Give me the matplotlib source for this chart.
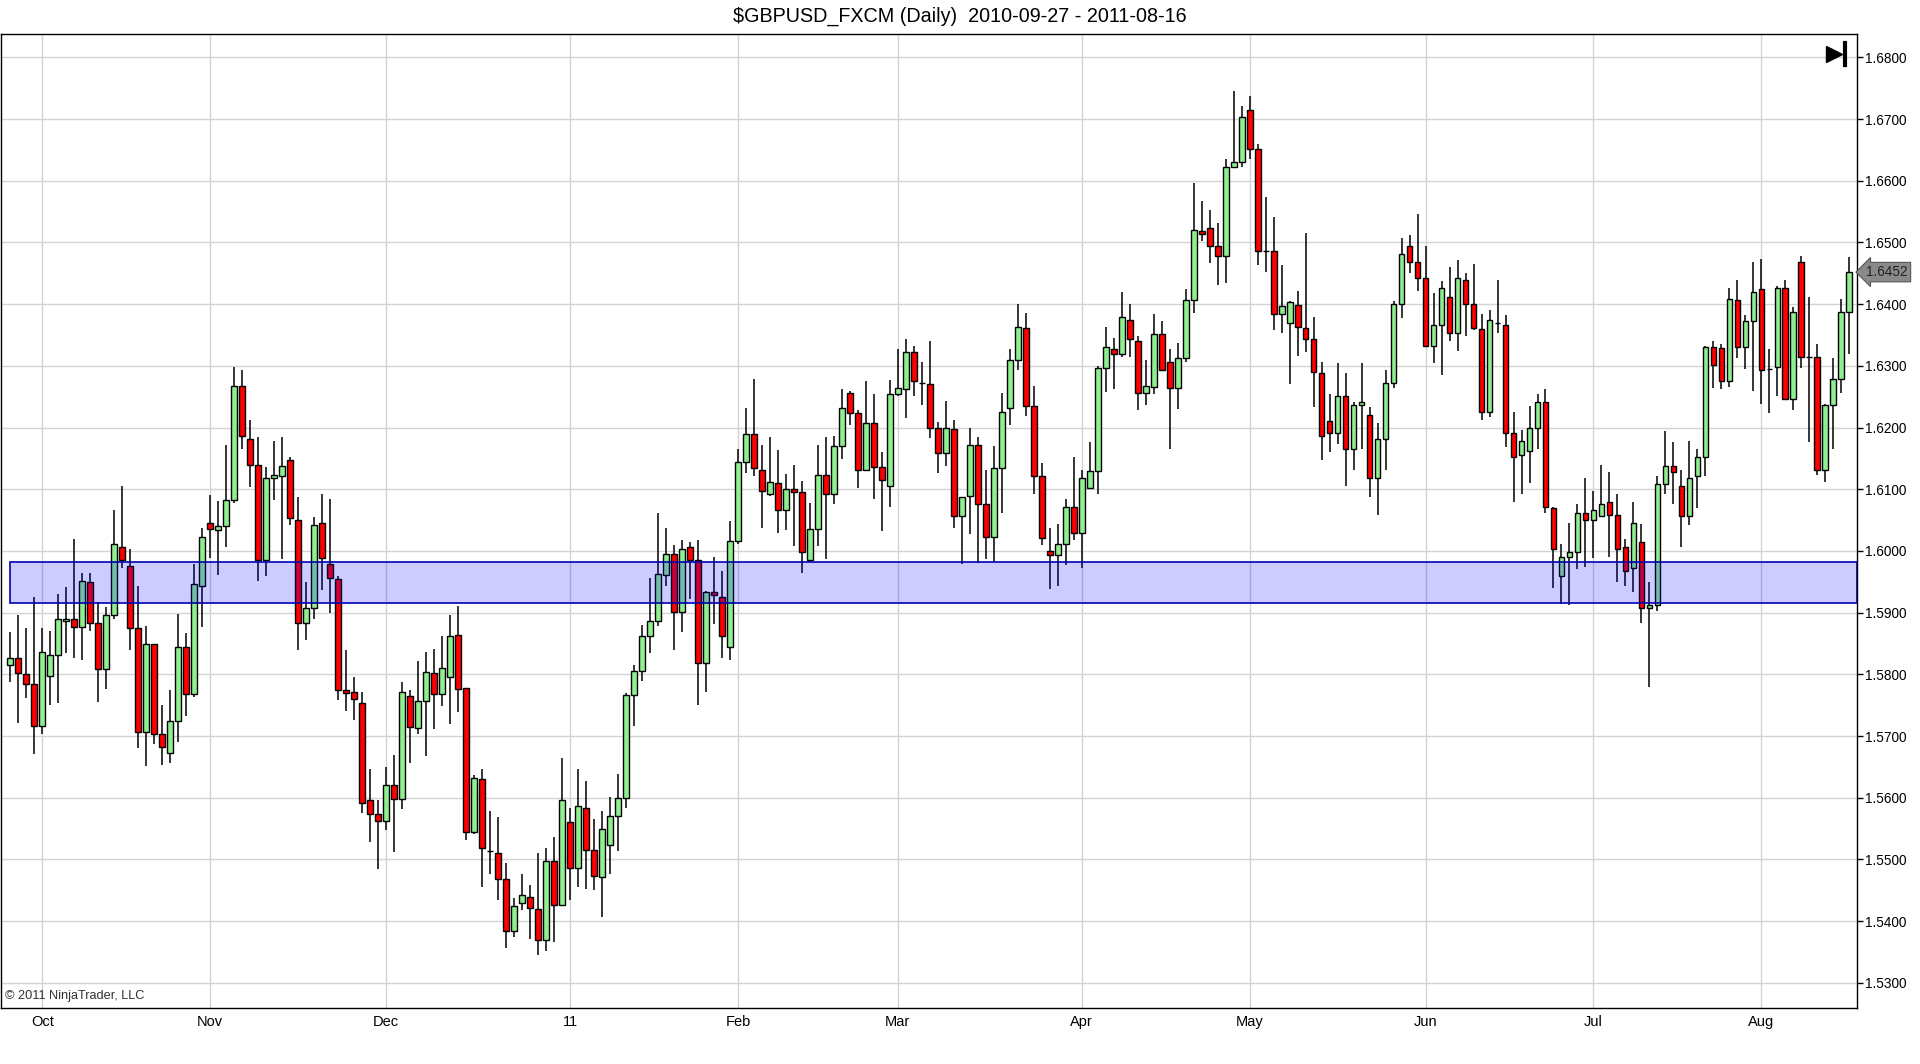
import matplotlib
matplotlib.use("Agg")
import matplotlib.pyplot as plt
from matplotlib.patches import Rectangle
import numpy as np

plt.rcParams['font.family'] = ['Liberation Sans', 'DejaVu Sans']

title = "$GBPUSD_FXCM (Daily)  2010-09-27 - 2011-08-16"

opens = [1.5816,1.5827,1.5800,1.5784,1.5716,1.5798,1.5831,1.5886,1.5889,1.5876,
         1.5949,1.5883,1.5808,1.5897,1.6007,1.5975,1.5875,1.5706,1.5849,1.5703,
         1.5672,1.5724,1.5844,1.5769,1.5943,1.6045,1.6034,1.6040,1.6082,1.6267,
         1.6181,1.6139,1.5985,1.6119,1.6121,1.6147,1.6051,1.5884,1.5907,1.6045,
         1.5979,1.5955,1.5775,1.5772,1.5754,1.5597,1.5574,1.5563,1.5621,1.5598,
         1.5765,1.5713,1.5757,1.5803,1.5769,1.5796,1.5864,1.5778,1.5545,1.5631,
         1.5513,1.5511,1.5469,1.5384,1.5429,1.5439,1.5419,1.5369,1.5497,1.5426,
         1.5560,1.5487,1.5584,1.5516,1.5471,1.5523,1.5571,1.5599,1.5767,1.5805,
         1.5863,1.5886,1.5961,1.5995,1.5901,1.6006,1.5986,1.5818,1.5933,1.5925,
         1.5845,1.6016,1.6145,1.6189,1.6132,1.6093,1.6110,1.6066,1.6100,1.6095,
         1.5985,1.6035,1.6123,1.6092,1.6170,1.6256,1.6223,1.6132,1.6207,1.6136,
         1.6106,1.6254,1.6262,1.6322,1.6272,1.6270,1.6199,1.6158,1.6197,1.6056,
         1.6089,1.6171,1.6076,1.6022,1.6134,1.6231,1.6309,1.6361,1.6235,1.6121,
         1.6000,1.5993,1.6011,1.6071,1.6029,1.6102,1.6129,1.6296,1.6328,1.6319,
         1.6374,1.6341,1.6256,1.6266,1.6351,1.6306,1.6264,1.6312,1.6406,1.6518,
         1.6523,1.6494,1.6478,1.6623,1.6630,1.6714,1.6651,1.6486,1.6486,1.6384,
         1.6369,1.6398,1.6362,1.6343,1.6288,1.6210,1.6191,1.6251,1.6166,1.6236,
         1.6221,1.6119,1.6181,1.6273,1.6400,1.6494,1.6469,1.6443,1.6333,1.6367,
         1.6411,1.6353,1.6439,1.6400,1.6359,1.6225,1.6369,1.6367,1.6192,1.6155,
         1.6162,1.6199,1.6241,1.6069,1.5959,1.5990,1.5998,1.6061,1.6051,1.6056,
         1.6080,1.6059,1.6006,1.5972,1.6014,1.5907,1.5912,1.6108,1.6137,1.6106,
         1.6056,1.6121,1.6153,1.6330,1.6329,1.6275,1.6406,1.6330,1.6372,1.6424,
         1.6295,1.6299,1.6426,1.6247,1.6468,1.6314,1.6314,1.6132,1.6236,1.6278,
         1.6388]
highs = [1.5868,1.5896,1.5875,1.5925,1.5875,1.5871,1.5931,1.5941,1.6019,1.5965,
         1.5964,1.5918,1.5909,1.6067,1.6106,1.6004,1.5943,1.5879,1.5850,1.5751,
         1.5775,1.5898,1.5867,1.5979,1.6037,1.6091,1.6081,1.6172,1.6299,1.6294,
         1.6213,1.6184,1.6136,1.6179,1.6184,1.6153,1.6087,1.5949,1.6055,1.6093,
         1.6085,1.5960,1.5839,1.5795,1.5772,1.5647,1.5597,1.5650,1.5669,1.5788,
         1.5775,1.5822,1.5837,1.5841,1.5863,1.5897,1.5911,1.5778,1.5637,1.5647,
         1.5578,1.5569,1.5494,1.5437,1.5476,1.5458,1.5511,1.5518,1.5536,1.5665,
         1.5584,1.5646,1.5628,1.5565,1.5579,1.5602,1.5639,1.5770,1.5815,1.5880,
         1.5956,1.6061,1.6038,1.6009,1.6017,1.6014,1.6017,1.5935,1.5991,1.5967,
         1.6048,1.6165,1.6231,1.6278,1.6171,1.6184,1.6163,1.6124,1.6139,1.6113,
         1.6077,1.6171,1.6184,1.6186,1.6262,1.6259,1.6228,1.6275,1.6254,1.6160,
         1.6277,1.6328,1.6343,1.6333,1.6306,1.6341,1.6209,1.6243,1.6213,1.6087,
         1.6199,1.6184,1.6132,1.6170,1.6256,1.6327,1.6400,1.6385,1.6267,1.6142,
         1.6038,1.6043,1.6084,1.6152,1.6132,1.6176,1.6300,1.6363,1.6345,1.6420,
         1.6400,1.6348,1.6309,1.6384,1.6372,1.6328,1.6337,1.6424,1.6597,1.6567,
         1.6552,1.6531,1.6635,1.6745,1.6721,1.6737,1.6659,1.6573,1.6542,1.6463,
         1.6405,1.6421,1.6516,1.6379,1.6307,1.6254,1.6304,1.6288,1.6242,1.6304,
         1.6233,1.6208,1.6293,1.6405,1.6508,1.6512,1.6546,1.6495,1.6418,1.6437,
         1.6460,1.6471,1.6450,1.6465,1.6384,1.6390,1.6440,1.6382,1.6225,1.6196,
         1.6235,1.6254,1.6262,1.6071,1.6012,1.6045,1.6076,1.6119,1.6097,1.6140,
         1.6128,1.6092,1.6019,1.6079,1.6043,1.5949,1.6121,1.6194,1.6176,1.6132,
         1.6178,1.6166,1.6333,1.6340,1.6335,1.6427,1.6439,1.6382,1.6469,1.6474,
         1.6328,1.6430,1.6440,1.6396,1.6478,1.6411,1.6335,1.6238,1.6312,1.6409,
         1.6476]
lows = [1.5788,1.5721,1.5762,1.5671,1.5704,1.5750,1.5753,1.5834,1.5827,1.5824,
        1.5870,1.5756,1.5776,1.5889,1.5972,1.5839,1.5680,1.5651,1.5687,1.5653,
        1.5657,1.5691,1.5732,1.5763,1.5877,1.5988,1.5961,1.6007,1.6077,1.6166,
        1.6103,1.5952,1.5960,1.6082,1.5987,1.6042,1.5839,1.5855,1.5889,1.5936,
        1.5899,1.5759,1.5740,1.5726,1.5576,1.5529,1.5485,1.5548,1.5512,1.5582,
        1.5657,1.5704,1.5668,1.5712,1.5749,1.5720,1.5739,1.5532,1.5542,1.5456,
        1.5477,1.5435,1.5356,1.5374,1.5418,1.5371,1.5345,1.5351,1.5367,1.5424,
        1.5434,1.5455,1.5452,1.5450,1.5406,1.5476,1.5513,1.5583,1.5717,1.5790,
        1.5835,1.5879,1.5944,1.5839,1.5868,1.5922,1.5751,1.5771,1.5881,1.5826,
        1.5823,1.6011,1.6127,1.6121,1.6037,1.6089,1.6029,1.6034,1.6008,1.5964,
        1.5982,1.6008,1.5987,1.6076,1.6149,1.6204,1.6102,1.6131,1.6085,1.6032,
        1.6072,1.6251,1.6215,1.6252,1.6236,1.6183,1.6126,1.6137,1.6038,1.5979,
        1.6027,1.5980,1.5987,1.5982,1.6061,1.6204,1.6293,1.6218,1.6092,1.6009,
        1.5938,1.5943,1.5978,1.6017,1.5972,1.6100,1.6092,1.6257,1.6262,1.6314,
        1.6314,1.6228,1.6236,1.6254,1.6291,1.6165,1.6230,1.6307,1.6385,1.6502,
        1.6466,1.6431,1.6434,1.6620,1.6622,1.6635,1.6463,1.6452,1.6358,1.6353,
        1.6270,1.6316,1.6322,1.6234,1.6147,1.6160,1.6174,1.6105,1.6131,1.6166,
        1.6087,1.6058,1.6132,1.6264,1.6377,1.6450,1.6422,1.6330,1.6304,1.6286,
        1.6340,1.6324,1.6348,1.6358,1.6213,1.6217,1.6354,1.6168,1.6079,1.6093,
        1.6110,1.6166,1.6061,1.5940,1.5914,1.5912,1.5970,1.5974,1.5988,1.6055,
        1.5991,1.5949,1.5944,1.5933,1.5883,1.5780,1.5902,1.6092,1.6076,1.6006,
        1.6042,1.6069,1.6121,1.6264,1.6262,1.6265,1.6312,1.6295,1.6260,1.6238,
        1.6223,1.6251,1.6246,1.6228,1.6296,1.6176,1.6123,1.6111,1.6166,1.6256,
        1.6319]
closes = [1.5827,1.5803,1.5785,1.5716,1.5836,1.5831,1.5889,1.5889,1.5876,1.5952,
          1.5883,1.5808,1.5897,1.6011,1.5985,1.5875,1.5706,1.5849,1.5703,1.5682,
          1.5724,1.5844,1.5768,1.5946,1.6022,1.6035,1.6040,1.6082,1.6267,1.6186,
          1.6139,1.5985,1.6119,1.6123,1.6137,1.6053,1.5884,1.5907,1.6042,1.5988,
          1.5956,1.5774,1.5770,1.5760,1.5592,1.5574,1.5563,1.5621,1.5598,1.5772,
          1.5715,1.5757,1.5804,1.5769,1.5811,1.5863,1.5777,1.5545,1.5632,1.5519,
          1.5513,1.5469,1.5384,1.5424,1.5442,1.5421,1.5369,1.5497,1.5426,1.5596,
          1.5487,1.5586,1.5516,1.5473,1.5549,1.5571,1.5599,1.5767,1.5805,1.5862,
          1.5886,1.5962,1.5995,1.5901,1.6004,1.5986,1.5818,1.5933,1.5928,1.5863,
          1.6016,1.6145,1.6189,1.6134,1.6097,1.6111,1.6067,1.6100,1.6095,1.5999,
          1.6035,1.6123,1.6092,1.6170,1.6231,1.6223,1.6132,1.6207,1.6136,1.6115,
          1.6254,1.6264,1.6322,1.6275,1.6272,1.6199,1.6158,1.6199,1.6056,1.6087,
          1.6171,1.6076,1.6022,1.6134,1.6226,1.6309,1.6363,1.6235,1.6121,1.6021,
          1.5993,1.6011,1.6071,1.6029,1.6119,1.6129,1.6296,1.6330,1.6319,1.6379,
          1.6343,1.6256,1.6267,1.6351,1.6294,1.6264,1.6312,1.6406,1.6520,1.6513,
          1.6495,1.6478,1.6623,1.6630,1.6703,1.6651,1.6486,1.6486,1.6384,1.6397,
          1.6403,1.6363,1.6343,1.6290,1.6187,1.6191,1.6251,1.6166,1.6236,1.6242,
          1.6119,1.6181,1.6273,1.6400,1.6481,1.6469,1.6443,1.6333,1.6367,1.6427,
          1.6354,1.6443,1.6401,1.6362,1.6225,1.6375,1.6369,1.6191,1.6153,1.6179,
          1.6199,1.6241,1.6071,1.6004,1.5990,1.5998,1.6061,1.6051,1.6066,1.6076,
          1.6059,1.6003,1.5967,1.6045,1.5907,1.5912,1.6108,1.6137,1.6128,1.6056,
          1.6119,1.6153,1.6330,1.6301,1.6275,1.6408,1.6330,1.6372,1.6419,1.6294,
          1.6295,1.6426,1.6247,1.6388,1.6315,1.6314,1.6132,1.6236,1.6278,1.6387,
          1.6452]

month_labels = ["Oct", "Nov", "Dec", "11", "Feb", "Mar", "Apr", "May", "Jun", "Jul", "Aug"]
month_start_bar = [4, 25, 47, 70, 91, 111, 134, 155, 177, 198, 219]

zone_low = 1.5915
zone_high = 1.5982
last_price = closes[-1]

price_ticks = [1.53 + 0.01 * k for k in range(16)]

W, H = 1920, 1064
fig = plt.figure(figsize=(W / 100, H / 100), dpi=100)
fig.patch.set_facecolor('white')
ax_left, ax_right = 1 / W, 1856.7 / W
ax_top, ax_bot = 1 - 34 / H, 1 - 1008 / H
ax = fig.add_axes([ax_left, ax_bot, ax_right - ax_left, ax_top - ax_bot])

n = len(closes)
x = np.arange(n)
o = np.array(opens); c = np.array(closes); hi = np.array(highs); lo = np.array(lows)

colors = np.where(c > o, '#90EE90', np.where(c < o, '#FF0000', '#000000'))
body_bottom = np.minimum(o, c)
body_h = np.abs(c - o)

ax.vlines(x, lo, hi, color='black', linewidth=1.1, zorder=2)
ax.bar(x, body_h, bottom=body_bottom, width=0.72, color=colors,
       edgecolor='black', linewidth=1.0, zorder=3)

ax.set_xlim(-1.16, 230.92)
ax.set_ylim(1.52593, 1.68379)

# zone rectangle
zone = Rectangle((0, zone_low), 230.92, zone_high - zone_low,
                 facecolor=(0, 0, 1, 0.2), edgecolor='#0000B0', linewidth=1.2, zorder=4)
ax.add_patch(zone)

# grid
for p in price_ticks:
    ax.axhline(p, color='#D4D4D4', linewidth=1.0, zorder=0)
for m in month_start_bar:
    ax.axvline(m, color='#D4D4D4', linewidth=1.0, zorder=0)

ax.yaxis.tick_right()
ax.set_yticks(price_ticks)
ax.set_yticklabels([f"{p:.4f}" for p in price_ticks], fontsize=9.8)
ax.tick_params(axis='y', direction='out', length=4, width=1, pad=2, colors='black')
ax.set_xticks(month_start_bar)
ax.set_xticklabels(month_labels, fontsize=10.5)
ax.tick_params(axis='x', direction='out', length=0, pad=5)

for side in ['left', 'top', 'bottom', 'right']:
    ax.spines[side].set_color('black')
    ax.spines[side].set_linewidth(1.0)

# last price marker
ax.annotate(f"{last_price:.4f}", xy=(1, last_price), xycoords=('axes fraction', 'data'),
            xytext=(7, 0), textcoords='offset points', va='center', ha='left',
            fontsize=9.8, color='#222222',
            bbox=dict(boxstyle='larrow,pad=0.2', fc='#8A8A8A', ec='#555555', lw=0.8))

# title
fig.text(0.5, 1 - 16 / H, title, ha='center', va='center', fontsize=14.2)

# copyright
ax.text(0.002, 0.006, "\u00a9 2011 NinjaTrader, LLC", transform=ax.transAxes,
        fontsize=9.2, color='#333333', ha='left', va='bottom')

# "go to end" icon
ax.plot([0.9876], [0.9795], marker='>', markersize=12, color='black',
        transform=ax.transAxes, clip_on=False, zorder=6)
ax.plot([0.9938, 0.9938], [0.968, 0.991], color='black', linewidth=3,
        transform=ax.transAxes, clip_on=False, zorder=6)

fig.savefig("out.png", dpi=100)
